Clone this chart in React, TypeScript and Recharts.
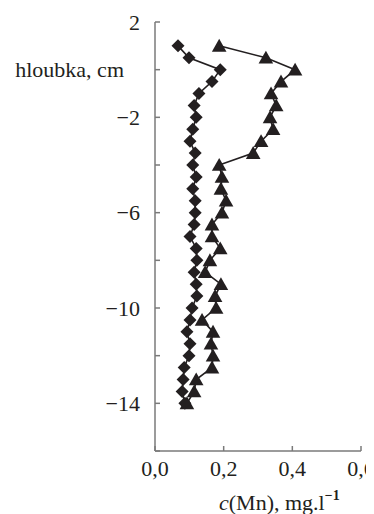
import { ScatterChart, Scatter, XAxis, YAxis } from 'recharts';

// depth below the water–sediment interface, cm
const depths = [
  1, 0.5, 0, -0.5, -1, -1.5, -2, -2.5, -3, -3.5, -4, -4.5, -5, -5.5, -6, -6.5,
  -7, -7.5, -8, -8.5, -9, -9.5, -10, -10.5, -11, -11.5, -12, -12.5, -13, -13.5, -14,
];

// c(Mn), mg/l — diamond profile
const mnDiamond = [
  0.067, 0.099, 0.19, 0.166, 0.128, 0.114, 0.12, 0.11, 0.102, 0.117, 0.11, 0.12,
  0.11, 0.117, 0.117, 0.114, 0.102, 0.12, 0.122, 0.114, 0.12, 0.122, 0.108, 0.102,
  0.093, 0.102, 0.099, 0.085, 0.082, 0.079, 0.087,
];

// c(Mn), mg/l — triangle profile
const mnTriangle = [
  0.187, 0.323, 0.408, 0.367, 0.338, 0.353, 0.335, 0.344, 0.309, 0.286, 0.187, 0.195,
  0.192, 0.207, 0.195, 0.166, 0.166, 0.19, 0.16, 0.146, 0.192, 0.175, 0.178, 0.137,
  0.169, 0.163, 0.169, 0.166, 0.12, 0.114, 0.093,
];

const xTicks = [0, 0.2, 0.4, 0.6];
const yTicks = [2, 0, -2, -4, -6, -8, -10, -12, -14, -16];
const yLabelled = [2, -2, -6, -10, -14];

const diamondData = depths.map((d, i) => ({ c: mnDiamond[i], depth: d }));
const triangleData = depths.map((d, i) => ({ c: mnTriangle[i], depth: d }));

const INK = '#231f20';
const AXIS = '#7a7a7a';
const FONT = '"Liberation Serif", "DejaVu Serif", serif';
const FS = 22;

const Diamond = (props: any) => {
  const { cx, cy } = props;
  const r = 6.5;
  return (
    <path
      d={`M${cx},${cy - r}L${cx + r},${cy}L${cx},${cy + r}L${cx - r},${cy}Z`}
      fill={INK}
    />
  );
};

const Triangle = (props: any) => {
  const { cx, cy } = props;
  return (
    <path
      d={`M${cx},${cy - 7}L${cx + 7.3},${cy + 5.8}L${cx - 7.3},${cy + 5.8}Z`}
      fill={INK}
    />
  );
};

const YTick = (props: any) => {
  const { x, y, payload } = props;
  const v = payload.value;
  if (v === 0) {
    return (
      <text x={x - 15} y={y} dy="0.355em" textAnchor="end" fontFamily={FONT} fontSize={FS} fill={INK}>
        hloubka, cm
      </text>
    );
  }
  if (!yLabelled.includes(v)) return <g />;
  return (
    <text x={x + 1} y={y} dy="0.355em" textAnchor="end" fontFamily={FONT} fontSize={FS} fill={INK}>
      {v < 0 ? `\u2212${Math.abs(v)}` : `${v}`}
    </text>
  );
};

const NoTick = () => <g />;

const XLabel = (props: any) => {
  const { viewBox } = props;
  const x = viewBox.x + 64;
  const y = viewBox.y + 59;
  return (
    <text x={x} y={y} fontFamily={FONT} fontSize={FS} fill={INK}>
      <tspan fontStyle="italic">c</tspan>
      <tspan>(Mn), mg.l</tspan>
      <tspan fontSize={14} fontWeight="bold" dy={-10}>
        {'\u2212'}1
      </tspan>
    </text>
  );
};

export default function App() {
  return (
    <ScatterChart
      width={366}
      height={506}
      margin={{ top: 14, right: 13, left: 0, bottom: 0 }}
    >
      <XAxis
        type="number"
        dataKey="c"
        domain={[0, 0.6]}
        ticks={xTicks}
        tickFormatter={(v: number) => v.toFixed(1).replace('.', ',')}
        height={63}
        stroke={AXIS}
        strokeWidth={1.5}
        tickSize={-5}
        tickMargin={14}
        tick={{ fill: INK, fontFamily: FONT, fontSize: FS }}
        interval={0}
        allowDataOverflow
        label={<XLabel />}
      />
      <YAxis
        type="number"
        dataKey="depth"
        domain={[-16, 2]}
        ticks={yTicks}
        width={147}
        stroke={AXIS}
        strokeWidth={1.5}
        tickSize={-5}
        tickMargin={21}
        tick={<YTick />}
        interval={0}
        allowDataOverflow
      />
      <YAxis
        yAxisId="right"
        orientation="right"
        type="number"
        domain={[-16, 2]}
        ticks={yTicks}
        width={0}
        stroke={AXIS}
        strokeWidth={1.5}
        tickSize={-5}
        tick={<NoTick />}
        interval={0}
        allowDataOverflow
      />
      <Scatter
        data={triangleData}
        shape={<Triangle />}
        line={{ stroke: INK, strokeWidth: 1.6 }}
        isAnimationActive={false}
      />
      <Scatter
        data={diamondData}
        shape={<Diamond />}
        line={{ stroke: INK, strokeWidth: 1.6 }}
        isAnimationActive={false}
      />
    </ScatterChart>
  );
}
